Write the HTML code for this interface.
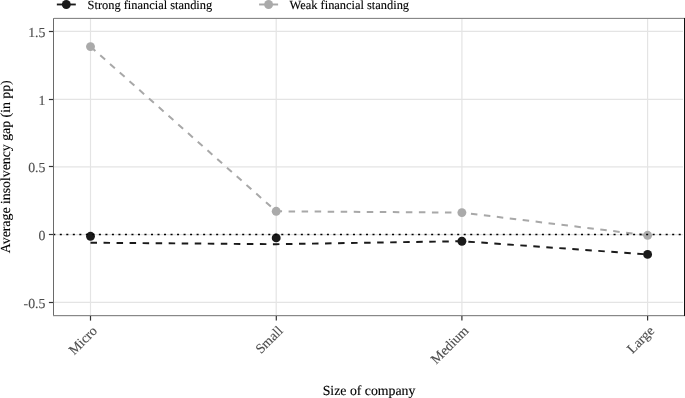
<!DOCTYPE html>
<html>
<head>
<meta charset="utf-8">
<style>
html,body{margin:0;padding:0;background:#fff;}
body{width:685px;height:398px;overflow:hidden;}
svg{display:block;will-change:transform;}
text{font-family:"Liberation Serif",serif;text-rendering:geometricPrecision;stroke-width:0.12px;}
</style>
</head>
<body>
<svg width="685" height="398" viewBox="0 0 685 398">
<rect x="0" y="0" width="685" height="398" fill="#fff"/>
<!-- grid -->
<g stroke="#E4E4E4" stroke-width="1.2" fill="none">
<line x1="54" y1="31.4" x2="683" y2="31.4"/>
<line x1="54" y1="99.4" x2="683" y2="99.4"/>
<line x1="54" y1="166.9" x2="683" y2="166.9"/>
<line x1="54" y1="234.6" x2="683" y2="234.6"/>
<line x1="54" y1="302.4" x2="683" y2="302.4"/>
<line x1="90.5" y1="19" x2="90.5" y2="315"/>
<line x1="276.2" y1="19" x2="276.2" y2="315"/>
<line x1="461.9" y1="19" x2="461.9" y2="315"/>
<line x1="647.6" y1="19" x2="647.6" y2="315"/>
</g>
<!-- lines -->
<path d="M90.5,46.6 L276.2,211.3 L461.9,212.6 L647.6,235.3" fill="none" stroke="#A8A8A8" stroke-width="2.0" stroke-dasharray="6.515 6.515"/>
<path d="M90.5,242.7 L276.2,244.2 L461.9,241.2 L647.6,254.4" fill="none" stroke="#1A1A1A" stroke-width="1.95" stroke-dasharray="6.515 6.515"/>
<!-- points -->
<g fill="#AAAAAA">
<circle cx="90.5" cy="46.6" r="4.45"/>
<circle cx="276.2" cy="211.3" r="4.45"/>
<circle cx="461.9" cy="212.6" r="4.45"/>
<circle cx="647.6" cy="235.3" r="4.45"/>
</g>
<g fill="#1A1A1A">
<circle cx="90.5" cy="236.3" r="4.45"/>
<circle cx="276.2" cy="237.9" r="4.45"/>
<circle cx="461.9" cy="241.25" r="4.45"/>
<circle cx="647.6" cy="254.4" r="4.45"/>
</g>
<!-- zero line -->
<line x1="53.26" y1="234.55" x2="684" y2="234.55" stroke="#000" stroke-width="1.6" stroke-dasharray="2.03 4.485"/>
<!-- panel border (clipped look) -->
<rect x="53" y="18" width="1" height="298" fill="#6A6A6A"/>
<rect x="53" y="18" width="632" height="1" fill="#888888"/>
<rect x="54" y="17" width="631" height="1" fill="#EEEEEE"/>
<rect x="53" y="315" width="632" height="1" fill="#888888"/>
<rect x="53" y="316" width="632" height="1" fill="#E6E6E6"/>
<rect x="684" y="18" width="1" height="298" fill="#111111"/>
<!-- ticks -->
<g stroke="#333333" stroke-width="1.2">
<line x1="48.9" y1="31.5" x2="53" y2="31.5"/>
<line x1="48.9" y1="99.5" x2="53" y2="99.5"/>
<line x1="48.9" y1="166.5" x2="53" y2="166.5"/>
<line x1="48.9" y1="234.5" x2="53" y2="234.5"/>
<line x1="48.9" y1="302.5" x2="53" y2="302.5"/>
<line x1="90.5" y1="316" x2="90.5" y2="320.6"/>
<line x1="276.3" y1="316" x2="276.3" y2="320.6"/>
<line x1="461.9" y1="316" x2="461.9" y2="320.6"/>
<line x1="647.6" y1="316" x2="647.6" y2="320.6"/>
</g>
<!-- y tick labels -->
<g font-size="13.8" fill="#4D4D4D" stroke="#4D4D4D" text-anchor="end">
<text x="45.4" y="36.8">1.5</text>
<text x="45.4" y="104.55">1</text>
<text x="45.4" y="172.3">0.5</text>
<text x="45.4" y="240.3">0</text>
<text x="45.4" y="307.8">-0.5</text>
</g>
<!-- x tick labels -->
<g font-size="13.8" fill="#4D4D4D" stroke="#4D4D4D" text-anchor="end">
<text transform="translate(98.0,331.6) rotate(-45)">Micro</text>
<text transform="translate(283.7,331.6) rotate(-45)">Small</text>
<text transform="translate(469.35,331.6) rotate(-45)">Medium</text>
<text transform="translate(655.05,331.6) rotate(-45)">Large</text>
</g>
<!-- axis titles -->
<text x="322.7" y="394.8" font-size="13.8" fill="#000" stroke="#000">Size of company</text>
<text transform="translate(9.6,253.2) rotate(-90)" font-size="13.8" fill="#000" stroke="#000">Average insolvency gap (in pp)</text>
<!-- legend -->
<line x1="56.85" y1="4.48" x2="75.8" y2="4.48" stroke="#1A1A1A" stroke-width="1.85"/>
<circle cx="66.3" cy="4.48" r="4.45" fill="#1A1A1A"/>
<text x="87.6" y="9.3" font-size="12.4" fill="#000" stroke="#000">Strong financial standing</text>
<line x1="259.1" y1="4.48" x2="278.1" y2="4.48" stroke="#A8A8A8" stroke-width="1.95"/>
<circle cx="268.6" cy="4.48" r="4.45" fill="#AAAAAA"/>
<text x="289.6" y="9.3" font-size="12.4" fill="#000" stroke="#000">Weak financial standing</text>
</svg>
</body>
</html>
